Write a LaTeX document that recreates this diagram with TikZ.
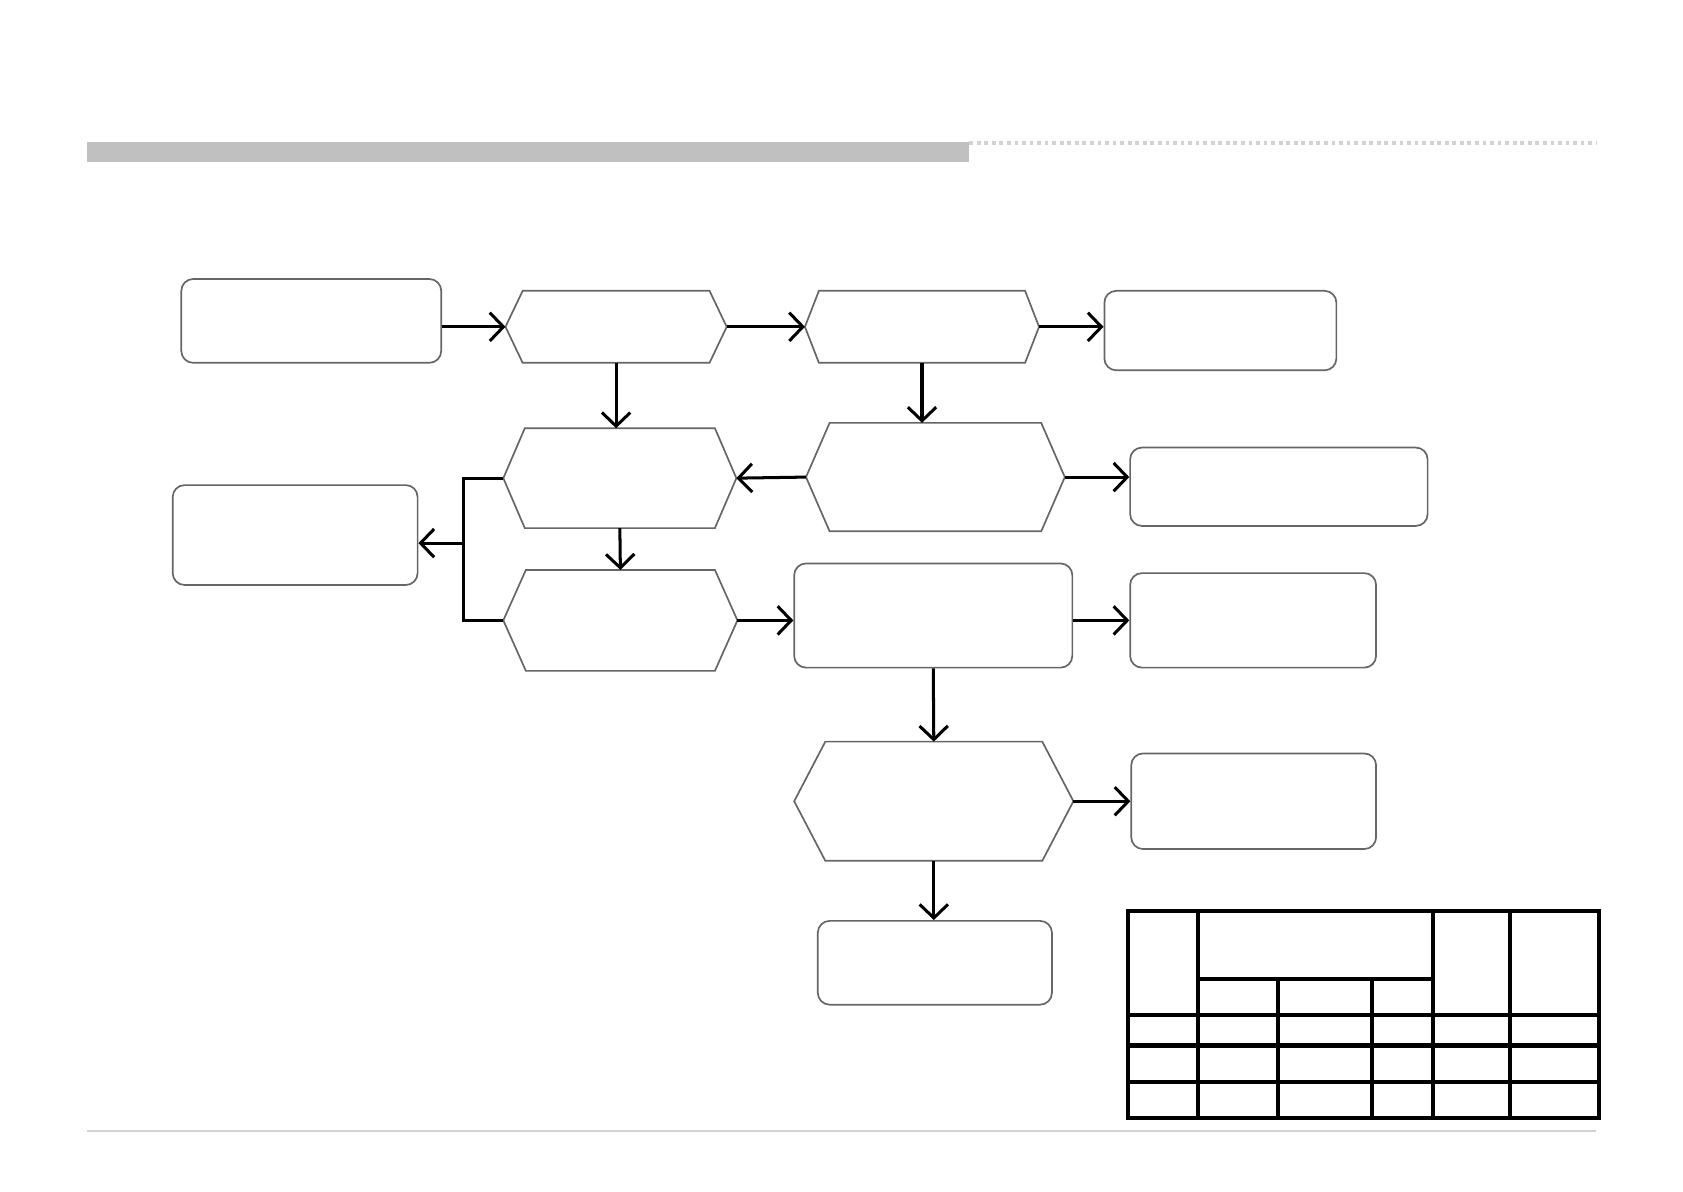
\documentclass[tikz,border=0pt]{standalone}
\usepackage{tikz}
\usetikzlibrary{arrows.meta, positioning, calc}
\definecolor{hdrgray}{RGB}{192,192,192}
\definecolor{rulegray}{RGB}{210,210,210}

\begin{document}
\begin{tikzpicture}[
    x=0.01cm, y=-0.01cm,
    box/.style={draw=gray!80!black, line width=0.45pt, rounded corners=1.1mm, inner sep=0pt},
    hexa/.style={inner sep=0pt, outer sep=0pt},
    hexline/.style={draw=gray!80!black, line width=0.45pt},
    arr/.style={-{Straight Barb[length=3.6pt, width=7.5pt]}, line width=0.8pt},
    grid/.style={line width=1.1pt}
]
\useasboundingbox (0,0) rectangle (1568,1110);

% header and footer rules
\fill[hdrgray] (81,132) rectangle (903,151);
\draw[rulegray, densely dotted, line width=1pt] (903,133) -- (1487,133);
\draw[rulegray, line width=0.6pt] (81,1054) -- (1487,1054);

% first row
\node[box, minimum width=24.2mm, minimum height=7.8mm] (start) at (290,299) {};
\node[hexa, minimum width=20.6mm, minimum height=6.7mm] (check) at (574,304.5) {};
\node[hexa, minimum width=21.8mm, minimum height=6.7mm] (test) at (859,304.5) {};
\node[box, minimum width=21.6mm, minimum height=7.4mm] (pass) at (1137,308) {};

% second row
\node[box, minimum width=22.8mm, minimum height=9.3mm] (fault) at (275,498.5) {};
\node[hexa, minimum width=21.7mm, minimum height=9.3mm] (inspect) at (577.5,445.5) {};
\node[hexa, minimum width=24.1mm, minimum height=10.1mm] (measure) at (871.5,444.5) {};
\node[box, minimum width=27.7mm, minimum height=7.3mm] (ok) at (1191.5,453.5) {};

% third row
\node[hexa, minimum width=21.8mm, minimum height=9.4mm] (repair) at (578,578) {};
\node[box, minimum width=25.9mm, minimum height=9.7mm] (adjust) at (869.5,573.5) {};
\node[box, minimum width=22.9mm, minimum height=8.8mm] (record) at (1167.5,578) {};

% lower rows
\node[hexa, minimum width=26mm, minimum height=11.1mm] (verify) at (870,746.5) {};
\node[box, minimum width=22.8mm, minimum height=8.9mm] (report) at (1168,746.5) {};
\node[box, minimum width=21.8mm, minimum height=7.8mm] (finish) at (871,897) {};

% hexagon outlines
\foreach \n/\c in {check/16, test/13, inspect/20, measure/22, repair/21, verify/29}
  \draw[hexline] (\n.west) -- ($(\n.north west)+(\c,0)$) -- ($(\n.north east)+(-\c,0)$) -- (\n.east)
    -- ($(\n.south east)+(-\c,0)$) -- ($(\n.south west)+(\c,0)$) -- cycle;

\coordinate (split) at (432,506);

% connectors
\draw[arr] (start.east |- check) -- (check.west);
\draw[arr] (check.east) -- (test.west);
\draw[arr] (test.east) -- (test.east -| pass.west);
\draw[arr] (check.south) -- (check.south |- inspect.north);
\draw[arr] (test.south) -- (test.south |- measure.north);
\draw[arr] (measure.west) -- (inspect.east);
\draw[arr] (measure.east) -- (measure.east -| ok.west);
\draw[line width=0.8pt] (inspect.west) -| (split) |- (repair.west);
\draw[arr] (split) -- (split -| fault.east);
\draw[arr] (inspect.south) -- (repair.north);
\draw[arr] (repair.east) -- (repair.east -| adjust.west);
\draw[arr] (record.west -| adjust.east) -- (record.west);
\draw[arr] (adjust.south) -- (verify.north);
\draw[arr] (verify.east) -- (report.west);
\draw[arr] (verify.south) -- (verify.south |- finish.north);

% table
\draw[grid] (1051,849) rectangle (1490,1042);
\draw[grid] (1116,912) -- (1335,912);
\foreach \y in {946,974,1008} \draw[grid] (1051,\y) -- (1490,\y);
\foreach \x in {1116,1335,1407} \draw[grid] (\x,849) -- (\x,1042);
\foreach \x in {1191,1278} \draw[grid] (\x,912) -- (\x,1042);
\end{tikzpicture}
\end{document}
